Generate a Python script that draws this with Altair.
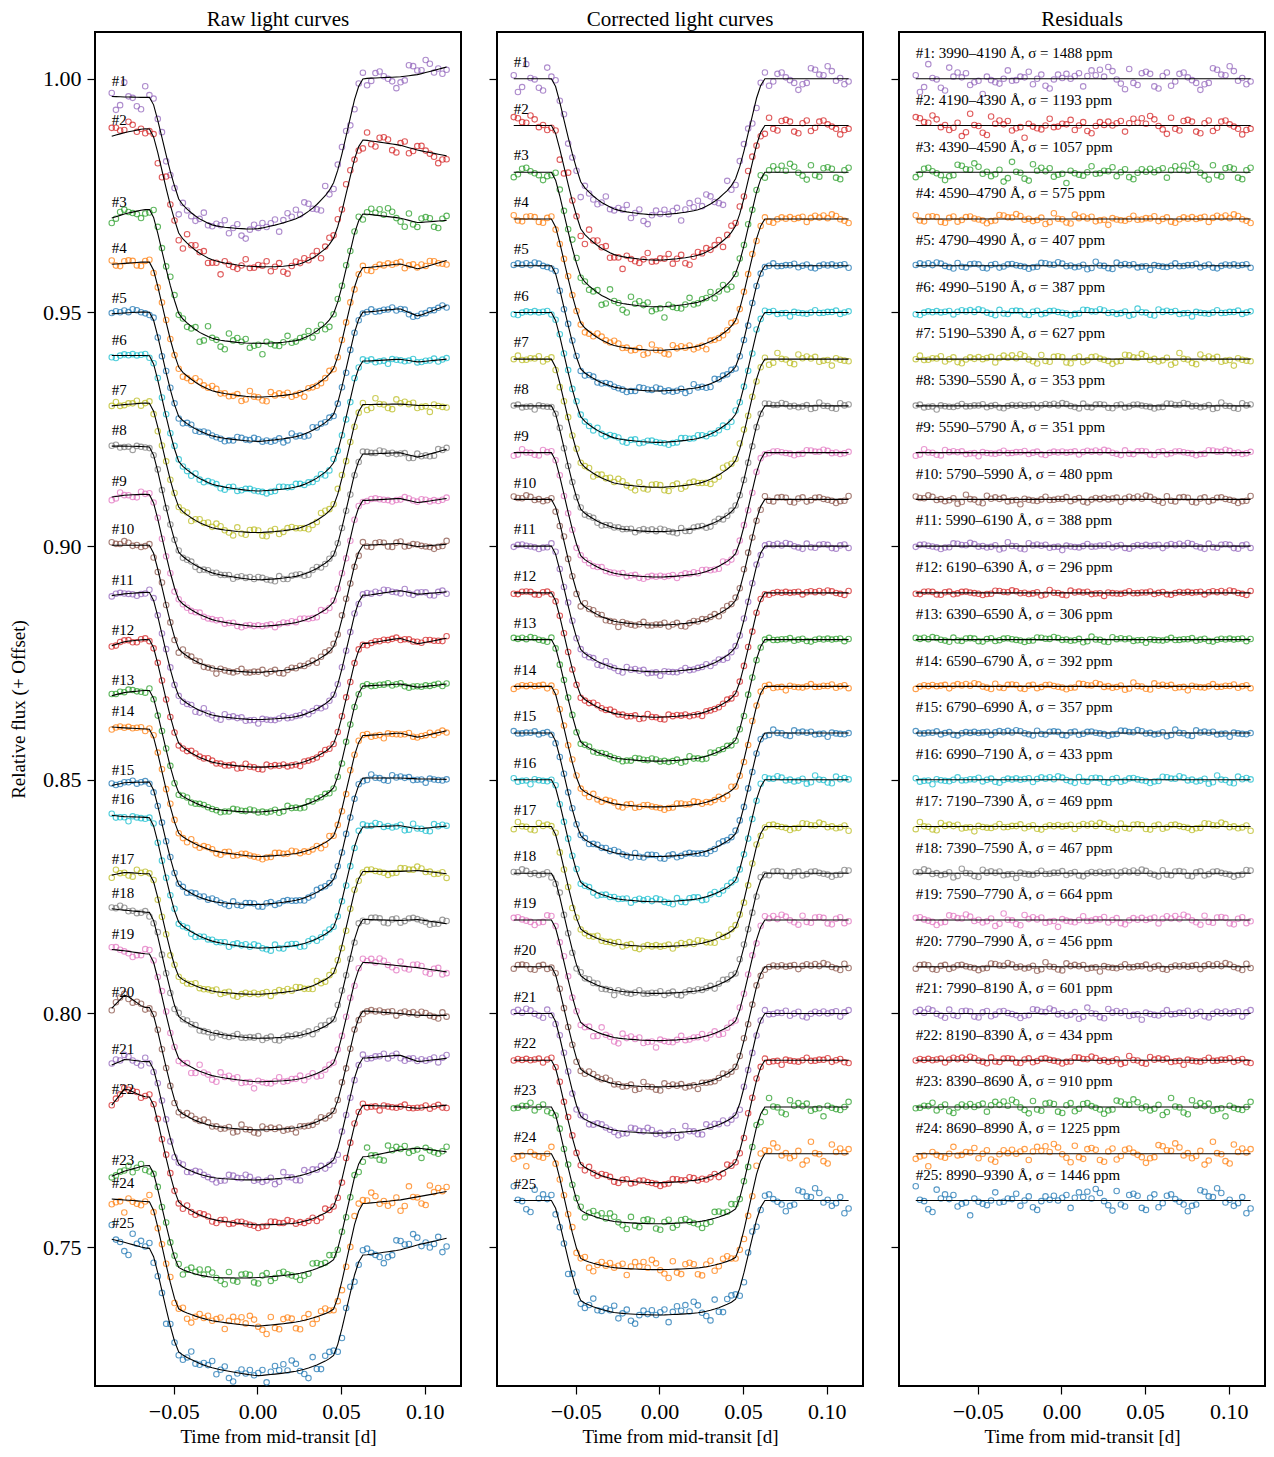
import altair as alt
import numpy as np
import pandas as pd

# ---------------- data ----------------
TIMES = [
    -0.0870, -0.0845, -0.0820, -0.0795, -0.0770, -0.0745, -0.0720, -0.0695, -0.0670, -0.0645,
    -0.0620, -0.0595, -0.0570, -0.0545, -0.0520, -0.0495, -0.0470, -0.0445, -0.0420, -0.0395,
    -0.0370, -0.0345, -0.0320, -0.0295, -0.0270, -0.0245, -0.0220, -0.0195, -0.0170, -0.0145,
    -0.0120, -0.0095, -0.0070, -0.0045, -0.0020, 0.0005, 0.0030, 0.0055, 0.0080, 0.0105,
    0.0130, 0.0155, 0.0180, 0.0205, 0.0230, 0.0255, 0.0280, 0.0305, 0.0330, 0.0355,
    0.0380, 0.0405, 0.0430, 0.0455, 0.0480, 0.0505, 0.0530, 0.0555, 0.0580, 0.0605,
    0.0630, 0.0655, 0.0680, 0.0705, 0.0730, 0.0755, 0.0780, 0.0805, 0.0830, 0.0855,
    0.0880, 0.0905, 0.0930, 0.0955, 0.0980, 0.1005, 0.1030, 0.1055, 0.1080, 0.1105,
    0.1130,
]

# fraction of the contact (knee) depth
TRANSIT_FLAT = [
    0, 0, 0, 0, 0, 0, 0, 0, 0, 0,
    0.08, 0.24, 0.42, 0.60, 0.77, 0.92, 1, 1, 1, 1,
    1, 1, 1, 1, 1, 1, 1, 1, 1, 1,
    1, 1, 1, 1, 1, 1, 1, 1, 1, 1,
    1, 1, 1, 1, 1, 1, 1, 1, 1, 1,
    1, 1, 1, 1, 0.90, 0.74, 0.56, 0.38, 0.20, 0.07,
    0, 0, 0, 0, 0, 0, 0, 0, 0, 0,
    0, 0, 0, 0, 0, 0, 0, 0, 0, 0,
    0,
]

# limb-darkening bowl (0 at the knees, 1 at mid-transit)
TRANSIT_BOWL = [
    0, 0, 0, 0, 0, 0, 0, 0, 0, 0,
    0, 0, 0, 0, 0, 0, 0.14, 0.30, 0.41, 0.51,
    0.60, 0.68, 0.74, 0.80, 0.85, 0.88, 0.905, 0.925, 0.94, 0.955,
    0.97, 0.98, 0.99, 0.997, 1.0, 0.999, 0.995, 0.985, 0.975, 0.965,
    0.95, 0.935, 0.915, 0.895, 0.87, 0.83, 0.78, 0.72, 0.65, 0.57,
    0.47, 0.37, 0.24, 0.06, 0, 0, 0, 0, 0, 0,
    0, 0, 0, 0, 0, 0, 0, 0, 0, 0,
    0, 0, 0, 0, 0, 0, 0, 0, 0, 0,
    0,
]

# residual scatter pattern (in units of sigma)
NOISE = [
    0.9, -1.6, 0.3, 1.2, -0.4, -1.1, 0.6, 0.2, -0.8, 1.7,
    -0.3, 0.5, -1.4, 0.1, 0.8, -0.6, 1.1, -0.2, -1.9, 0.4,
    0.7, -0.9, 1.5, -0.1, 0.3, -1.2, 0.9, 0.0, -0.5, 1.3,
    -0.7, 0.2, 2.1, -1.0, 0.4, -0.3, 0.6, -1.5, 1.0, 0.1,
    -0.4, 0.8, -2.2, 0.5, 1.4, -0.8, -0.1, 0.7, -1.1, 0.3,
    1.8, -0.6, 0.0, -1.3, 0.9, 0.4, -0.2, 1.1, -0.9, 0.6,
    -1.7, 0.2, 1.2, -0.5, -0.3, 0.8, -1.0, 1.6, -0.2, 0.5,
    -0.7, 0.1, 1.0, -1.4, 0.3, -0.6, 1.3, 0.0, -0.8, 0.7,
    -0.1,
]

CENTER_DEPTH_PPT = [29.1, 28.8, 28.8, 28.1, 26.8, 27.8, 27.4, 26.9, 26.6, 26.9,
                    26.9, 26.6, 26.0, 25.8, 26.4, 26.1, 25.7, 25.7, 25.8, 25.7,
                    25.6, 26.2, 25.0, 24.8, 24.5]
CONTACT_DEPTH_PPT = [20.9, 21.0, 21.2, 21.3, 21.3, 21.4, 21.3, 21.3, 21.3, 21.3,
                     21.3, 21.2, 21.2, 21.2, 21.2, 21.2, 21.3, 21.3, 21.3, 21.3,
                     21.4, 21.5, 21.6, 22.0, 20.9]
SIGMA_PPM = [1488, 1193, 1057, 575, 407, 387, 627, 353, 351, 480,
             388, 296, 306, 392, 357, 433, 469, 467, 664, 456,
             601, 434, 910, 1225, 1446]
BANDS = ["3990–4190", "4190–4390", "4390–4590", "4590–4790", "4790–4990",
         "4990–5190", "5190–5390", "5390–5590", "5590–5790", "5790–5990",
         "5990–6190", "6190–6390", "6390–6590", "6590–6790", "6790–6990",
         "6990–7190", "7190–7390", "7390–7590", "7590–7790", "7790–7990",
         "7990–8190", "8190–8390", "8390–8690", "8690–8990", "8990–9390"]

# raw systematics (ppt, relative to 1 - 0.01*k) at these times
TREND_KNOTS = [-0.087, -0.079, -0.068, 0.0, 0.066, 0.085, 0.096, 0.113]
RAW_TREND_PPT = [
    [6.2, 6.1, 6.0, 7.0, 10.1, 10.4, 10.9, 12.5],
    [7.7, 8.5, 9.3, 8.6, 6.8, 5.8, 4.7, 3.5],
    [0.2, 1.1, 2.0, 2.2, 1.0, 0.2, -0.8, -0.3],
    [0.3, 0.5, 0.8, 0.0, -0.4, 0.4, -0.7, 1.1],
    [-0.3, -0.1, 0.1, -0.8, 0.1, 0.8, -0.8, 1.5],
    [0.8, 0.8, 0.8, -0.4, -0.4, 0.0, -0.6, 0.0],
    [0.0, 0.3, 0.6, 0.3, 0.3, 0.4, 0.1, 0.1],
    [1.4, 1.4, 1.3, -0.3, -0.3, 0.0, -1.0, 0.7],
    [0.5, 0.9, 1.1, -0.6, -0.2, 0.2, -0.7, 0.2],
    [0.2, 0.2, 0.2, -0.1, 0.2, 0.6, -0.1, 0.4],
    [-0.6, -0.2, 0.1, -0.2, -0.5, 0.5, -0.3, 0.2],
    [-1.3, -0.4, 0.0, -0.7, -0.8, 0.3, -0.9, 0.3],
    [-2.0, -1.3, -0.9, -0.9, 0.1, 0.5, -0.2, 0.5],
    [1.3, 1.1, 0.9, -0.6, -0.5, 0.0, -0.9, 0.5],
    [-1.2, -0.6, -0.5, -0.3, 0.4, 0.4, 0.2, 0.1],
    [2.4, 2.1, 2.0, 0.1, -0.1, 0.2, -0.5, 0.1],
    [-0.4, 0.2, -0.1, -0.2, 0.4, 0.4, 0.6, -0.1],
    [2.4, 2.1, 1.7, 0.4, 0.1, -0.1, 0.1, -0.8],
    [3.7, 3.4, 2.8, 1.2, 0.9, 0.2, -0.2, -1.1],
    [1.1, 4.1, 1.3, 0.8, 0.5, 0.0, -0.4, -0.4],
    [-1.0, 0.2, -0.3, 0.0, 0.5, 1.1, -0.3, 0.4],
    [0.4, 4.0, 2.2, 1.0, 0.3, 0.1, -0.3, 0.4],
    [-4.8, -3.7, -2.6, -1.5, -0.6, 0.8, 1.2, 0.4],
    [0.3, 0.1, -0.2, -2.1, -0.6, 0.1, 0.8, 1.9],
    [1.7, 1.0, -0.1, -3.0, -1.6, -0.6, 0.5, 1.9],
]

PALETTE = ["#9467bd", "#d62728", "#2ca02c", "#ff7f0e", "#1f77b4",
           "#17becf", "#bcbd22", "#7f7f7f", "#e377c2", "#8c564b"]

X_DOMAIN = [-0.097, 0.1216]
Y_DOMAIN = [0.7203, 1.010]
X_TICKS = [-0.05, 0.0, 0.05, 0.10]
Y_TICKS = [0.75, 0.80, 0.85, 0.90, 0.95, 1.00]
FONT = "Liberation Serif"

# ---------------- build tables ----------------
t = np.array(TIMES)
F = np.array(TRANSIT_FLAT, dtype=float)
B = np.array(TRANSIT_BOWL, dtype=float)
N = np.array(NOISE)
n = len(t)

names = [f"#{k}" for k in range(1, 26)]
colors = [PALETTE[(k - 1) % 10] for k in range(1, 26)]

rows_pts = {"raw": [], "cor": [], "res": []}
rows_line = {"raw": [], "cor": [], "res": []}
rows_lab = {"raw": [], "cor": [], "res": []}

for k in range(1, 26):
    name = names[k - 1]
    c = CONTACT_DEPTH_PPT[k - 1] / 1000.0
    d = CENTER_DEPTH_PPT[k - 1] / 1000.0
    shape = c * F + (d - c) * B
    base_c = 1.0 - 0.01 * (k - 1)
    base_r = 1.0 - 0.01 * k
    idx = (np.arange(n) * 7 + 11 * k) % n
    resid = SIGMA_PPM[k - 1] * 1e-6 * N[idx]
    trend = np.interp(t, TREND_KNOTS, np.array(RAW_TREND_PPT[k - 1]) / 1000.0)
    m_cor = base_c - shape
    m_raw = base_r - shape + trend
    m_res = np.full(n, base_c)
    for key, mod in (("raw", m_raw), ("cor", m_cor), ("res", m_res)):
        for i in range(n):
            rows_pts[key].append({"t": t[i], "flux": mod[i] + resid[i], "curve": name})
            rows_line[key].append({"t": t[i], "flux": mod[i], "curve": name})
    rows_lab["raw"].append({"t": t[0], "flux": m_raw[0] + 0.0034, "text": name})
    rows_lab["cor"].append({"t": t[0], "flux": base_c + 0.0036, "text": name})
    rows_lab["res"].append({"t": t[0], "flux": base_c + 0.0055,
                            "text": f"{name}: {BANDS[k-1]} Å, σ = {SIGMA_PPM[k-1]} ppm"})


def panel(key, title, first):
    xenc = alt.X("t:Q",
                 scale=alt.Scale(domain=X_DOMAIN, nice=False, zero=False),
                 axis=alt.Axis(values=X_TICKS, title="Time from mid-transit [d]",
                               labelExpr="replace(format(datum.value, '.2f'), '-', '−')"))
    if first:
        yaxis = alt.Axis(values=Y_TICKS, format=".2f", title="Relative flux (+ Offset)")
    else:
        yaxis = alt.Axis(values=Y_TICKS, labels=False, title=None)
    yenc = alt.Y("flux:Q", scale=alt.Scale(domain=Y_DOMAIN, nice=False, zero=False), axis=yaxis)

    pts = alt.Chart(pd.DataFrame(rows_pts[key])).mark_point(
        shape="circle", filled=False, size=30, strokeWidth=1.1, opacity=0.75, clip=True
    ).encode(
        x=xenc, y=yenc,
        color=alt.Color("curve:N", scale=alt.Scale(domain=names, range=colors), legend=None),
    )
    lines = alt.Chart(pd.DataFrame(rows_line[key])).mark_line(
        color="black", strokeWidth=1.1, clip=True
    ).encode(x=xenc, y=yenc, detail="curve:N")
    labs = alt.Chart(pd.DataFrame(rows_lab[key])).mark_text(
        align="left", baseline="middle", font=FONT, fontSize=15, color="black"
    ).encode(x=xenc, y=yenc, text="text:N")
    return alt.layer(pts, lines, labs).properties(
        width=366, height=1354,
        title=alt.TitleParams(title, font=FONT, fontSize=21, fontWeight="normal", offset=2),
    )


chart = alt.hconcat(
    panel("raw", "Raw light curves", True),
    panel("cor", "Corrected light curves", False),
    panel("res", "Residuals", False),
    spacing=25,
).properties(
    padding={"left": 0, "top": 0, "right": 0, "bottom": 0}
).configure_view(
    stroke="black", strokeWidth=2
).configure_axis(
    grid=False, domain=False,
    tickColor="black", tickSize=8, tickWidth=1.2,
    labelFont=FONT, labelFontSize=22, labelColor="black",
    titleFont=FONT, titleFontSize=19, titleFontWeight="normal", titleColor="black",
).configure_axisX(labelPadding=7, titlePadding=5).configure_axisY(labelPadding=6, titlePadding=14)

chart.save("out.html", embed_options={"renderer": "svg", "actions": False})
